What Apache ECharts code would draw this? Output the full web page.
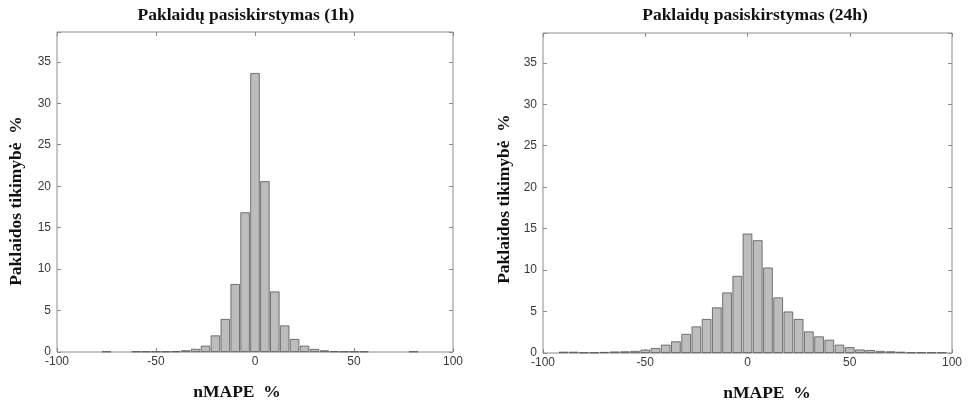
<!DOCTYPE html>
<html>
<head>
<meta charset="utf-8">
<script src="https://cdn.jsdelivr.net/npm/echarts@6/dist/echarts.min.js"></script>
<style>
  html, body { margin: 0; padding: 0; background: #fff; }
  #chart { width: 969px; height: 402px; }
</style>
</head>
<body>
<div id="chart"></div>
<script>
// histogram bins (nMAPE %, bin centres) and probabilities (%)
const bins1h = [-75, -60, -55, -50, -45, -40, -35, -30, -25, -20, -15, -10, -5, 0, 5, 10, 15, 20, 25, 30, 35, 40, 45, 50, 55, 80];
const prob1h = [0.06, 0.06, 0.06, 0.06, 0.06, 0.08, 0.2, 0.38, 0.76, 2.0, 3.98, 8.2, 16.85, 33.65, 20.6, 7.3, 3.2, 1.57, 0.76, 0.36, 0.2, 0.08, 0.06, 0.06, 0.06, 0.06];

const bins24h = [-90, -85, -80, -75, -70, -65, -60, -55, -50, -45, -40, -35, -30, -25, -20, -15, -10, -5, 0, 5, 10, 15, 20, 25, 30, 35, 40, 45, 50, 55, 60, 65, 70, 75, 80, 85, 90, 95];
const prob24h = [0.15, 0.15, 0.06, 0.06, 0.12, 0.18, 0.2, 0.25, 0.4, 0.6, 1.0, 1.4, 2.3, 3.2, 4.1, 5.5, 7.3, 9.3, 14.4, 13.6, 10.3, 6.7, 5.0, 4.1, 2.6, 2.0, 1.6, 1.0, 0.7, 0.42, 0.35, 0.25, 0.2, 0.15, 0.06, 0.06, 0.06, 0.06];

const xTicks = [-100, -50, 0, 50, 100];
const yTicks = [0, 5, 10, 15, 20, 25, 30, 35];

const titles = ['Paklaidų pasiskirstymas (1h)', 'Paklaidų pasiskirstymas (24h)'];
const yName = 'Paklaidos tikimybė  %';
const xName = 'nMAPE  %';

const chart = echarts.init(document.getElementById('chart'));

const frameColor = '#8c8c8c';
const labelStyle = { color: '#3a3a3a', fontFamily: 'Liberation Sans', fontSize: 12 };

function xAx(grid, pos, showLabel) {
  return {
    type: 'value', gridIndex: grid, position: pos,
    min: xTicks[0], max: xTicks[xTicks.length - 1], interval: 50,
    axisLine: { show: false, onZero: false },
    axisTick: { show: true, inside: true, length: 4, lineStyle: { color: frameColor } },
    axisLabel: Object.assign({ show: showLabel, margin: 4 }, labelStyle),
    splitLine: { show: false }
  };
}
function yAx(grid, pos, showLabel) {
  return {
    type: 'value', gridIndex: grid, position: pos,
    min: 0, max: 38.6, interval: 5,
    axisLine: { show: false, onZero: false },
    axisTick: { show: true, inside: true, length: 4, lineStyle: { color: frameColor } },
    axisLabel: Object.assign({
      show: showLabel, margin: 6,
      formatter: function (v) { return yTicks.indexOf(v) >= 0 ? String(v) : ''; }
    }, labelStyle),
    splitLine: { show: false }
  };
}

function pairs(bins, vals) {
  let out = [];
  for (let i = 0; i < bins.length; i++) out.push([bins[i], vals[i]]);
  return out;
}

const barStyle = { color: '#bdbdbd', borderColor: '#555', borderWidth: 0.8 };
const serif = 'bold 17.5px "Liberation Serif"';

let option = {
  animation: false,
  grid: [
    { left: 57, right: 516, top: 32, bottom: 50, show: true, borderColor: frameColor, borderWidth: 1 },
    { left: 543, right: 17, top: 33, bottom: 49, show: true, borderColor: frameColor, borderWidth: 1 }
  ],
  xAxis: [xAx(0, 'bottom', true), xAx(0, 'top', false), xAx(1, 'bottom', true), xAx(1, 'top', false)],
  yAxis: [yAx(0, 'left', true), yAx(0, 'right', false), yAx(1, 'left', true), yAx(1, 'right', false)],
  series: [
    {
      type: 'bar', xAxisIndex: 0, yAxisIndex: 0, barWidth: 9.4,
      data: pairs(bins1h, prob1h), itemStyle: barStyle
    },
    {
      type: 'bar', xAxisIndex: 2, yAxisIndex: 2, barWidth: 9.6,
      data: pairs(bins24h, prob24h), itemStyle: barStyle
    }
  ],
  graphic: [
    { type: 'text', x: 246, y: 15, style: { text: titles[0], font: serif, fill: '#111', align: 'center', verticalAlign: 'middle' } },
    { type: 'text', x: 755, y: 15, style: { text: titles[1], font: serif, fill: '#111', align: 'center', verticalAlign: 'middle' } },
    { type: 'text', x: 16, y: 201, rotation: Math.PI / 2, style: { text: yName, font: serif, fill: '#111', align: 'center', verticalAlign: 'middle' } },
    { type: 'text', x: 504, y: 199, rotation: Math.PI / 2, style: { text: yName, font: serif, fill: '#111', align: 'center', verticalAlign: 'middle' } },
    { type: 'text', x: 237, y: 392, style: { text: xName, font: serif, fill: '#111', align: 'center', verticalAlign: 'middle' } },
    { type: 'text', x: 767, y: 393, style: { text: xName, font: serif, fill: '#111', align: 'center', verticalAlign: 'middle' } }
  ]
};
chart.setOption(option);
</script>
</body>
</html>
